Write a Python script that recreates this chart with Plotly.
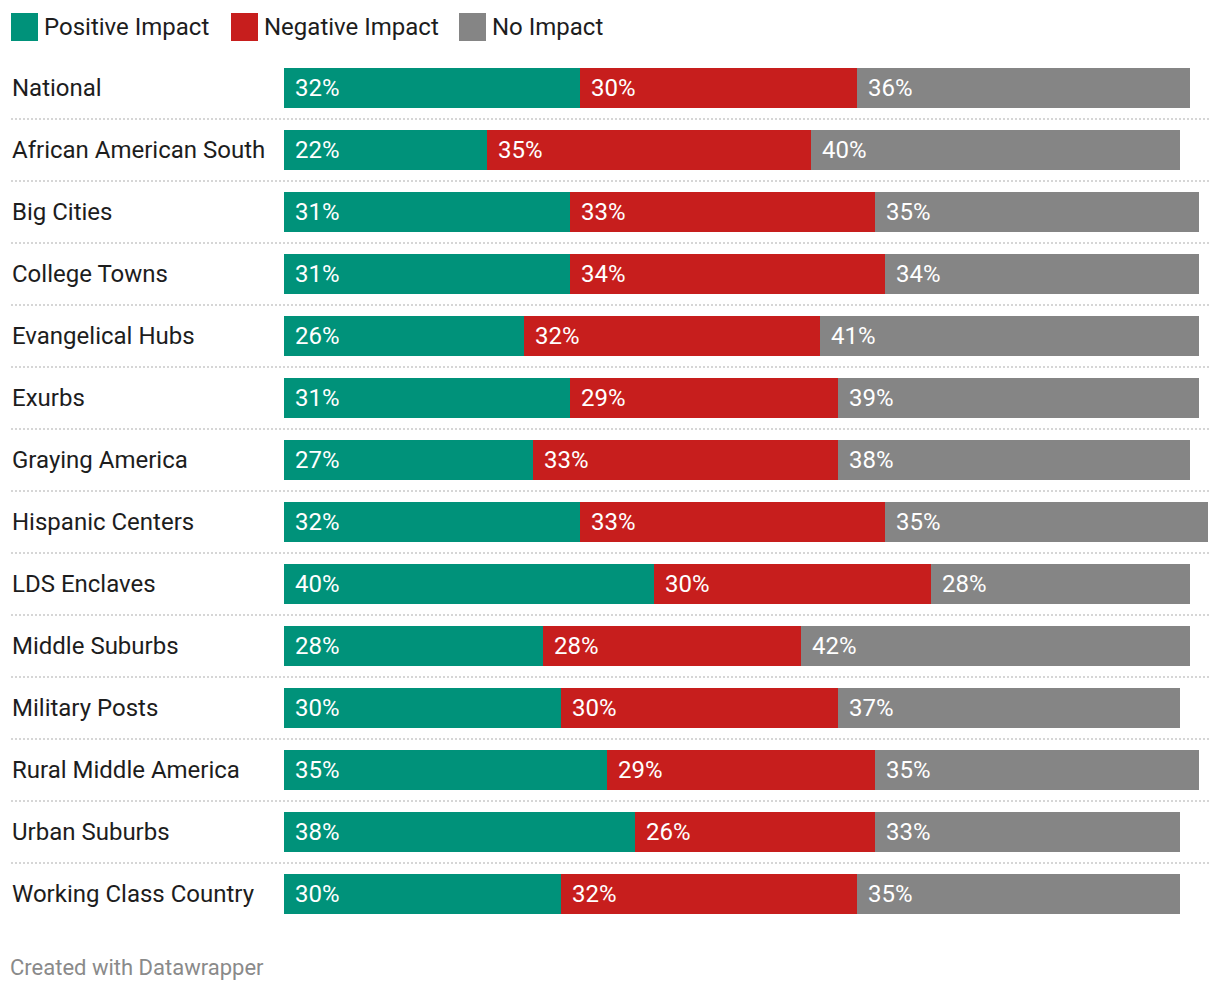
import plotly.graph_objects as go

categories = ["National", "African American South", "Big Cities", "College Towns",
              "Evangelical Hubs", "Exurbs", "Graying America", "Hispanic Centers",
              "LDS Enclaves", "Middle Suburbs", "Military Posts", "Rural Middle America",
              "Urban Suburbs", "Working Class Country"]
positive = [32, 22, 31, 31, 26, 31, 27, 32, 40, 28, 30, 35, 38, 30]
negative = [30, 35, 33, 34, 32, 29, 33, 33, 30, 28, 30, 29, 26, 32]
no_impact = [36, 40, 35, 34, 41, 39, 38, 35, 28, 42, 37, 35, 33, 35]
series_names = ["Positive Impact", "Negative Impact", "No Impact"]
colors = ["#00927a", "#c71e1d", "#858585"]

W, H = 1220, 992
L, R, T, B = 284, 12, 57, 67
PW, PH = W - L - R, H - T - B

def px_x(p):
    return (p - L) / PW

def px_y(p):
    return 1 - (p - T) / PH

FONT = "Roboto"
FS = 24
fig = go.Figure()
series = [positive, negative, no_impact]
for name, vals, col in zip(series_names, series, colors):
    fig.add_trace(go.Bar(
        y=categories, x=vals, name=name, orientation="h",
        marker=dict(color=col, line=dict(width=0)),
        hoverinfo="x+name", showlegend=False,
    ))

annotations = []
shapes = []
for i, cat in enumerate(categories):
    start = 0
    for vals in series:
        annotations.append(dict(
            x=start, y=cat, xref="x", yref="y", text=f"{vals[i]}%",
            showarrow=False, xanchor="left", yanchor="middle", xshift=9,
            font=dict(family=FONT, size=FS, color="white")))
        start += vals[i]
    annotations.append(dict(
        x=px_x(10), y=cat, xref="paper", yref="y", text=cat,
        showarrow=False, xanchor="left", yanchor="middle",
        font=dict(family=FONT, size=FS, color="#1d1d1d")))

for i in range(len(categories) - 1):
    shapes.append(dict(
        type="line", xref="paper", yref="y", x0=px_x(11), x1=px_x(1209),
        y0=i + 0.5, y1=i + 0.5,
        line=dict(color="#d6d6d6", width=2, dash="2px,2px")))

legend_pos = [(11, 42), (231, 262), (459, 490)]
for (sq, tx), name, col in zip(legend_pos, series_names, colors):
    shapes.append(dict(
        type="rect", xref="paper", yref="paper",
        x0=px_x(sq), x1=px_x(sq + 27), y0=px_y(41), y1=px_y(13),
        fillcolor=col, line=dict(width=0)))
    annotations.append(dict(
        x=px_x(tx), y=px_y(27), xref="paper", yref="paper", text=name,
        showarrow=False, xanchor="left", yanchor="middle",
        font=dict(family=FONT, size=FS, color="#1d1d1d")))

annotations.append(dict(
    x=px_x(8), y=px_y(967), xref="paper", yref="paper",
    text="Created with Datawrapper", showarrow=False,
    xanchor="left", yanchor="middle",
    font=dict(family=FONT, size=22, color="#8a8a8a")))

fig.update_layout(
    width=W, height=H, barmode="stack", bargap=22 / 62,
    margin=dict(l=L, r=R, t=T, b=B, pad=0),
    paper_bgcolor="white", plot_bgcolor="white",
    xaxis=dict(range=[0, 100], visible=False, fixedrange=True),
    yaxis=dict(autorange=False, visible=False, fixedrange=True,
               range=[len(categories) - 0.5, -0.5]),
    annotations=annotations, shapes=shapes,
    font=dict(family=FONT),
)

fig.write_html("out.html")
